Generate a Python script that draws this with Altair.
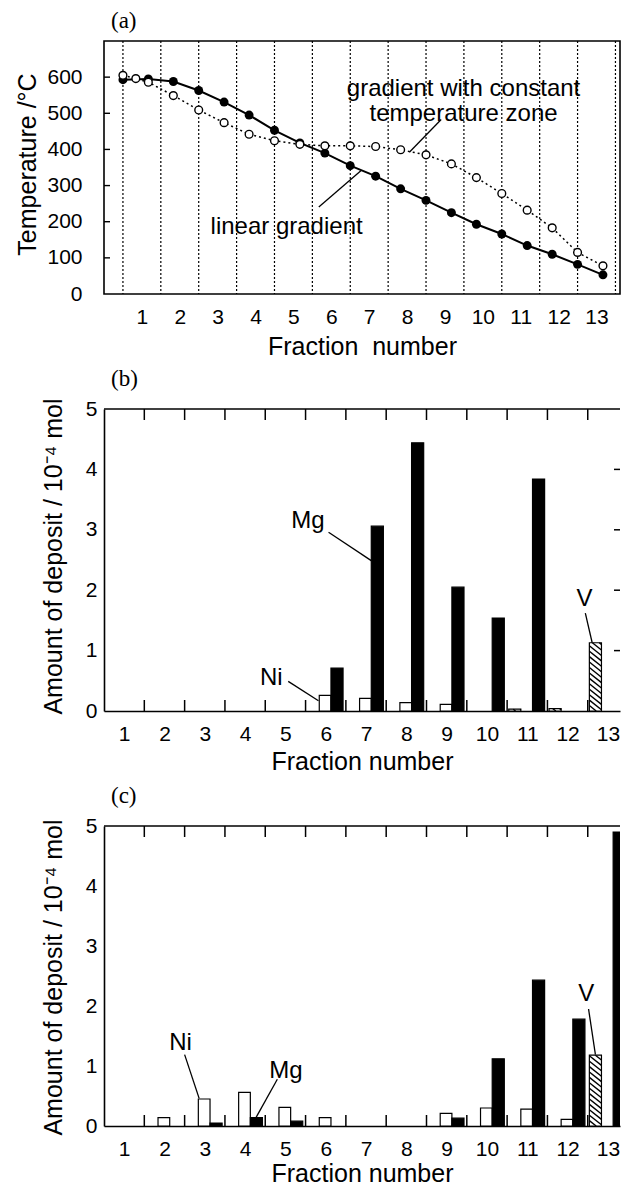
import altair as alt
import pandas as pd

FONT = "Liberation Sans"
SERIF = "Liberation Serif"

FRACTIONS = list(range(1, 14))

# ---------------- (a) temperature profiles ----------------
LIN_POS = [0.5, 1.17, 1.83, 2.5, 3.17, 3.83, 4.5, 5.17, 5.83, 6.5, 7.17, 7.83,
           8.5, 9.17, 9.83, 10.5, 11.17, 11.83, 12.5, 13.17]
LIN_TEMP = [593, 595, 588, 563, 531, 495, 453, 418, 390, 355, 326, 291,
            259, 225, 193, 166, 134, 110, 82, 53]
ZONE_POS = [0.5, 0.84, 1.17, 1.83, 2.5, 3.17, 3.83, 4.5, 5.17, 5.83, 6.5, 7.17,
            7.83, 8.5, 9.17, 9.83, 10.5, 11.17, 11.83, 12.5, 13.17]
ZONE_TEMP = [605, 596, 586, 549, 509, 474, 442, 424, 414, 410, 410, 408,
             399, 385, 360, 322, 278, 232, 183, 115, 78]
TEMP_TICKS = [0, 100, 200, 300, 400, 500, 600]

# ---------------- (b) deposits ----------------
B_NI = [0, 0, 0, 0, 0, 0.26, 0.21, 0.14, 0.11, 0, 0, 0, 0]
B_MG = [0, 0, 0, 0, 0, 0.71, 3.06, 4.44, 2.05, 1.54, 3.84, 0, 0]
B_V = [0, 0, 0, 0, 0, 0, 0, 0, 0, 0, 0.03, 0.04, 1.13]

# ---------------- (c) deposits ----------------
C_NI = [0, 0.14, 0.45, 0.56, 0.31, 0.14, 0, 0, 0.21, 0.30, 0.28, 0.11, 0]
C_MG = [0, 0, 0.05, 0.14, 0.08, 0, 0, 0, 0.13, 1.12, 2.43, 1.78, 4.90]
C_V = [0, 0, 0, 0, 0, 0, 0, 0, 0, 0, 0, 0, 1.18]
AMOUNT_TICKS = [0, 1, 2, 3, 4, 5]

# bar slots inside one fraction (layout, not data)
SLOT = {"V": (-0.46, -0.16), "Ni": (-0.16, 0.13), "Mg": (0.13, 0.43)}
HATCH_DROP = 0.16
HATCH_STEP = 0.09

PLOT_W = 516


def bars_table(ni, mg, v):
    rows = []
    for name, vals in (("Ni", ni), ("Mg", mg), ("V", v)):
        a, b = SLOT[name]
        for f, val in zip(FRACTIONS, vals):
            if val > 0:
                rows.append({"fraction": f, "series": name, "value": val,
                             "x0": f + a, "x1": f + b})
    return pd.DataFrame(rows)


def hatch_table(v):
    a, b = SLOT["V"]
    rows = []
    for f, val in zip(FRACTIONS, v):
        if val <= 0:
            continue
        xa, xb = f + a, f + b
        w = xb - xa
        c = HATCH_STEP
        while c < val + HATCH_DROP:
            ua = max(0.0, (c - val) / HATCH_DROP)
            ub = min(1.0, c / HATCH_DROP)
            if ub > ua:
                rows.append({"hx": xa + ua * w, "hy": c - HATCH_DROP * ua,
                             "hx2": xa + ub * w, "hy2": c - HATCH_DROP * ub})
            c += HATCH_STEP
    return pd.DataFrame(rows, columns=["hx", "hy", "hx2", "hy2"])


def panel_title(letter):
    return alt.TitleParams(letter, anchor="start", frame="group", font=SERIF,
                           fontSize=23, fontWeight="normal", offset=7, dx=7,
                           color="black")


def text_layer(df, X, Y):
    return alt.Chart(df).mark_text(color="black", font=FONT, fontSize=24,
                                   align="center", baseline="middle",
                                   lineBreak="\n", lineHeight=25).encode(
        x=X("tx:Q"), y=Y("ty:Q"), text="label:N")


def leader_layer(df, X, Y):
    return alt.Chart(df).mark_rule(color="black", strokeWidth=1.3).encode(
        x=X("lx:Q"), y=Y("ly:Q"), x2="lx2:Q", y2="ly2:Q")


# ---------------- panel (a) ----------------
def temperature_panel():
    W, H = PLOT_W, 253
    xs = alt.Scale(domain=[0, 13.62], nice=False, zero=False)
    ys = alt.Scale(domain=[0, 700], nice=False, zero=True)

    x_axis = alt.Axis(values=FRACTIONS, format="d", title="Fraction\u00a0 number",
                      labelPadding=12, ticks=False, tickSize=0, domain=False,
                      grid=False, titleY=52, titleBaseline="middle",
                      labelFlush=False)
    y_axis = alt.Axis(values=TEMP_TICKS, format="d", title="Temperature /\u00b0C",
                      labelPadding=22, ticks=False, tickSize=0, domain=False,
                      grid=False, titleX=-77, titleY=123, titleAngle=270,
                      titleBaseline="middle", titleAlign="center")

    def X(f):
        return alt.X(f, scale=xs, axis=x_axis)

    def Y(f):
        return alt.Y(f, scale=ys, axis=y_axis)

    bounds = pd.DataFrame({"b": [f - 0.5 for f in FRACTIONS] + [FRACTIONS[-1] + 0.5]})
    dotted = alt.Chart(bounds).mark_rule(color="black", strokeDash=[2, 2],
                                         strokeWidth=1.2).encode(
        x=X("b:Q"), y=alt.value(0), y2=alt.value(H))

    yticks = pd.DataFrame({"t": TEMP_TICKS[1:]})
    left_ticks = alt.Chart(yticks).mark_rule(color="black", strokeWidth=1.4).encode(
        y=Y("t:Q"), x=alt.value(0), x2=alt.value(6))

    lin = pd.DataFrame({"pos": LIN_POS, "temp": LIN_TEMP})
    zone = pd.DataFrame({"pos": ZONE_POS, "temp": ZONE_TEMP})

    zone_line = alt.Chart(zone).mark_line(color="black", strokeDash=[2, 3],
                                          strokeWidth=1.5).encode(
        x=X("pos:Q"), y=Y("temp:Q"))
    lin_line = alt.Chart(lin).mark_line(color="black", strokeWidth=2).encode(
        x=X("pos:Q"), y=Y("temp:Q"))
    lin_pts = alt.Chart(lin).mark_circle(color="black", size=80, opacity=1).encode(
        x=X("pos:Q"), y=Y("temp:Q"))
    zone_pts = alt.Chart(zone).mark_circle(fill="white", stroke="black",
                                           strokeWidth=1.4, size=60,
                                           opacity=1).encode(
        x=X("pos:Q"), y=Y("temp:Q"))

    notes = pd.DataFrame({
        "label": ["gradient with constant\ntemperature zone", "linear gradient"],
        "tx": [9.49, 4.82],
        "ty": [566, 186],
    })
    leaders = pd.DataFrame({
        "lx": [8.9, 5.67], "ly": [483, 241],
        "lx2": [8.06, 6.78], "ly2": [392, 341],
    })

    return alt.layer(
        dotted, left_ticks,
        zone_line, lin_line, lin_pts, zone_pts,
        text_layer(notes, X, Y),
        leader_layer(leaders, X, Y),
    ).properties(width=W, height=H, title=panel_title("(a)"),
                 view=alt.ViewBackground(stroke="black", strokeWidth=1.6))


# ---------------- panels (b), (c) ----------------
def deposit_panel(letter, ni, mg, v, notes, leaders, H, title_y, xtitle_y):
    W = PLOT_W
    xs = alt.Scale(domain=[0.5, 13.3], nice=False, zero=False)
    ys = alt.Scale(domain=[0, 5], nice=False, zero=True)

    x_axis = alt.Axis(values=FRACTIONS, format="d", title="Fraction number",
                      labelPadding=12, ticks=False, tickSize=0, domain=True,
                      domainColor="black", domainWidth=1.6,
                      grid=False, titleY=xtitle_y, titleBaseline="middle",
                      labelFlush=False)
    y_axis = alt.Axis(values=AMOUNT_TICKS, format="d",
                      title="Amount of deposit / 10\u207b\u2074 mol",
                      labelPadding=7, ticks=False, tickSize=0, domain=True,
                      domainColor="black", domainWidth=1.6,
                      grid=False, titleX=-51, titleY=title_y, titleAngle=270,
                      titleBaseline="middle", titleAlign="center")

    def X(f):
        return alt.X(f, scale=xs, axis=x_axis)

    def Y(f):
        return alt.Y(f, scale=ys, axis=y_axis)

    bars = bars_table(ni, mg, v)
    rects = alt.Chart(bars).mark_rect(stroke="black", strokeWidth=1.2,
                                      clip=True).encode(
        x=X("x0:Q"),
        x2="x1:Q",
        y=Y("value:Q"),
        y2=alt.datum(0),
        fill=alt.Fill("series:N",
                      scale=alt.Scale(domain=["Ni", "Mg", "V"],
                                      range=["white", "black", "white"]),
                      legend=None),
    )

    hatch = alt.Chart(hatch_table(v)).mark_rule(color="black",
                                                 strokeWidth=1.4).encode(
        x=X("hx:Q"), y=Y("hy:Q"), x2="hx2:Q", y2="hy2:Q")

    top_line = alt.Chart(pd.DataFrame({"k": [0]})).mark_rule(
        color="black", strokeWidth=1.6).encode(
        x=alt.value(0), x2=alt.value(W), y=alt.value(0))

    inner = pd.DataFrame({"b": [f + 0.5 for f in FRACTIONS[:-1]]})
    top_ticks = alt.Chart(inner).mark_rule(color="black", strokeWidth=1.5).encode(
        x=X("b:Q"), y=alt.value(0), y2=alt.value(11))
    bottom_ticks = alt.Chart(inner).mark_rule(color="black", strokeWidth=1.5).encode(
        x=X("b:Q"), y=alt.value(H - 11), y2=alt.value(H))
    rt = pd.DataFrame({"t": AMOUNT_TICKS[1:-1]})
    right_ticks = alt.Chart(rt).mark_rule(color="black", strokeWidth=1.5).encode(
        y=Y("t:Q"), x=alt.value(W - 6), x2=alt.value(W))

    return alt.layer(
        rects, hatch, top_line, top_ticks, bottom_ticks, right_ticks,
        text_layer(notes, X, Y),
        leader_layer(leaders, X, Y),
    ).properties(width=W, height=H, title=panel_title(letter))


notes_b = pd.DataFrame({"label": ["Mg", "Ni", "V"],
                        "tx": [5.56, 4.65, 12.42], "ty": [3.15, 0.55, 1.86]})
leaders_b = pd.DataFrame({"lx": [6.07, 5.07, 12.44], "ly": [2.96, 0.49, 1.62],
                          "lx2": [7.13, 5.82, 12.61], "ly2": [2.49, 0.17, 1.13]})
notes_c = pd.DataFrame({"label": ["Ni", "Mg", "V"],
                        "tx": [2.40, 5.01, 12.46], "ty": [1.38, 0.92, 2.2]})
leaders_c = pd.DataFrame({"lx": [2.5, 4.80, 12.52], "ly": [1.19, 0.78, 1.95],
                          "lx2": [2.86, 4.27, 12.69], "ly2": [0.46, 0.14, 1.19]})

panel_a = temperature_panel()
panel_b = deposit_panel("(b)", B_NI, B_MG, B_V, notes_b, leaders_b, 302, 147, 50)
panel_c = deposit_panel("(c)", C_NI, C_MG, C_V, notes_c, leaders_c, 300, 151, 47)

chart = alt.vconcat(panel_a, panel_b, panel_c, spacing=115, bounds="flush").properties(
    padding={"left": 6, "top": 1, "right": 0, "bottom": 0},
    background="white",
).configure_view(
    strokeWidth=0
).configure_axis(
    labelFont=FONT, labelFontSize=21, labelColor="black",
    titleFont=FONT, titleFontSize=25, titleFontWeight="normal", titleColor="black"
)

chart.save("out.html", embed_options={"renderer": "svg", "actions": False})
